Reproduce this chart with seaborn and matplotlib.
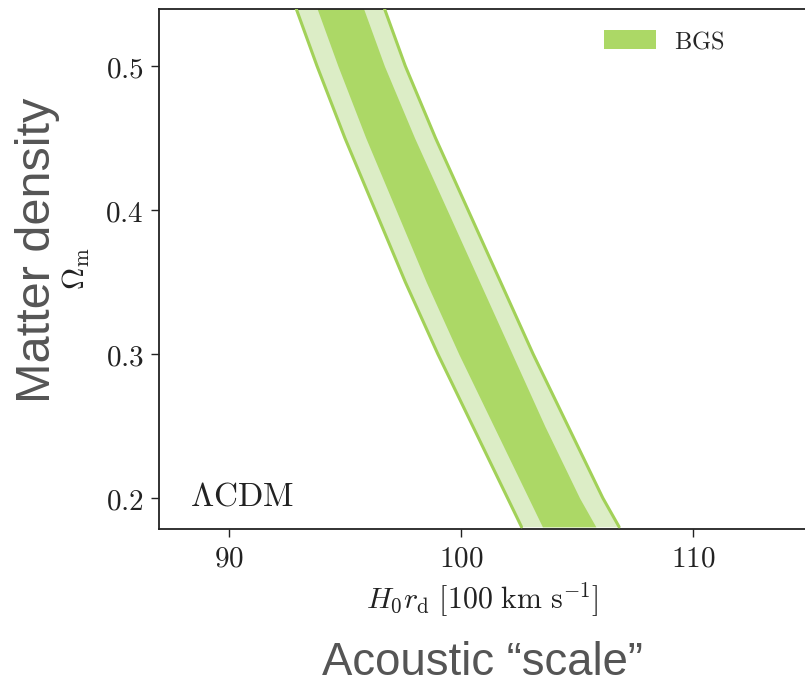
import numpy as np
import pandas as pd
import matplotlib
matplotlib.use("Agg")
import matplotlib.pyplot as plt
import seaborn as sns
from matplotlib.patches import Patch
from matplotlib.ticker import FuncFormatter

# Data
omega_m = [0.18, 0.20, 0.25, 0.30, 0.35, 0.40, 0.45, 0.50, 0.54]
outer_left = [102.6, 102.0, 100.5, 99.0, 97.6, 96.3, 95.0, 93.8, 92.9]
inner_left = [103.5, 102.9, 101.4, 99.9, 98.5, 97.2, 95.9, 94.7, 93.8]
inner_right = [105.8, 105.1, 103.6, 102.2, 100.8, 99.4, 98.0, 96.7, 95.8]
outer_right = [106.8, 106.1, 104.6, 103.1, 101.7, 100.3, 98.9, 97.6, 96.7]
x_ticks = [90, 100, 110]
y_ticks = [0.2, 0.3, 0.4, 0.5]

sns.set_style("white")
plt.rcParams["mathtext.fontset"] = "cm"
plt.rcParams["font.family"] = ["DejaVu Serif"]

light = "#dcedc6"
dark = "#acd866"
edge = "#a2d158"

fig = plt.figure(figsize=(8.05, 6.9), dpi=100)
ax = fig.add_axes([159 / 805, 1 - 529 / 690, 1 - 159 / 805, (529 - 9) / 690])

ax.fill_betweenx(omega_m, outer_left, outer_right, color=light, lw=0, zorder=1)
ax.fill_betweenx(omega_m, inner_left, inner_right, color=dark, lw=0, zorder=2)
df_l = pd.DataFrame({"x": outer_left, "y": omega_m})
df_r = pd.DataFrame({"x": outer_right, "y": omega_m})
sns.lineplot(data=df_l, x="x", y="y", orient="y", sort=False, color=edge, lw=2.2, ax=ax, zorder=3)
sns.lineplot(data=df_r, x="x", y="y", orient="y", sort=False, color=edge, lw=2.2, ax=ax, zorder=3)

ax.set_xlim(87, 114.8)
ax.set_ylim(0.1785, 0.5396)
ax.set_xticks(x_ticks)
ax.set_yticks(y_ticks)
ax.xaxis.set_major_formatter(FuncFormatter(lambda v, p: r"$%d$" % v))
ax.yaxis.set_major_formatter(FuncFormatter(lambda v, p: r"$%.1f$" % v))
ax.tick_params(axis="both", direction="out", length=6, width=1, labelsize=21,
               color="#222222", labelcolor="#222222", pad=5, left=True, bottom=True)
for s in ["left", "bottom", "top"]:
    ax.spines[s].set_color("#222222")
    ax.spines[s].set_linewidth(1.3)
ax.spines["right"].set_visible(False)

ax.set_xlabel(r"$H_0 r_\mathrm{d}\ [100\ \mathrm{km\ s^{-1}}]$", fontsize=21.5, color="#222222", labelpad=6)
ax.set_ylabel(r"$\Omega_\mathrm{m}$", fontsize=22, color="#222222", labelpad=10)

ax.text(31 / 646, (529 - 505) / 520, r"$\mathrm{\Lambda CDM}$", transform=ax.transAxes, fontsize=24,
        color="#222222", ha="left", va="baseline")

leg = ax.legend(handles=[Patch(facecolor=dark, edgecolor="none", label=r"$\mathrm{BGS}$")],
                loc="upper left", bbox_to_anchor=((604 - 159) / 646, 1 - 21 / 520),
                frameon=False, fontsize=17.5, handlelength=2.15, handleheight=0.85,
                handletextpad=0.75, borderaxespad=0, borderpad=0)

fig.text(38 / 805, 1 - 250 / 690, "Matter density", rotation=90, fontsize=35,
         family="Liberation Sans", color="#555555", ha="center", va="center")
fig.text(482 / 805, 1 - 675 / 690, "Acoustic \u201cscale\u201d", fontsize=32.8,
         family="Liberation Sans", color="#555555", ha="center", va="baseline")

fig.savefig("out.png", dpi=100)
